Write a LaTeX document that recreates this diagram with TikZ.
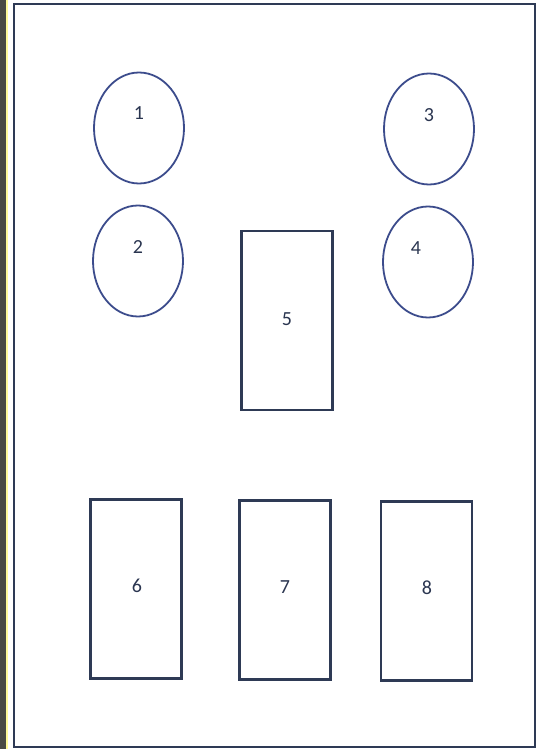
\documentclass[tikz,border=0pt]{standalone}
\usepackage{fontspec}
\setmainfont{Carlito}
\usetikzlibrary{shapes.geometric}
\definecolor{linec}{HTML}{2E3A55}
\definecolor{ellc}{HTML}{3C4C8C}
\definecolor{txtc}{HTML}{2A3550}
\definecolor{stripc}{HTML}{4A4A44}
\tikzset{
  oval/.style={draw=ellc, line width=1.8pt, ellipse, minimum width=90pt, minimum height=111pt, inner sep=0pt},
  slab/.style={draw=linec, line width=2.2pt, rectangle, minimum width=91pt, minimum height=179pt, inner sep=0pt},
  lbl/.style={text=txtc, font=\fontsize{20}{20}\selectfont, inner sep=0pt}
}
\begin{document}
\begin{tikzpicture}[x=1pt,y=-1pt]
\useasboundingbox (0,0) rectangle (536,749);
\fill[white] (0,0) rectangle (536,749);
\fill[stripc] (0,0) rectangle (6,749);
\fill[yellow!40!white] (6,0) rectangle (8,749);
\draw[linec, line width=2.4pt] (14,4) rectangle (535,747);
% ellipses
\node[oval] (o1) at (139,128) {};
\node[oval] (o2) at (138,261) {};
\node[oval] (o3) at (429,129) {};
\node[oval] (o4) at (428,262) {};
% rectangles
\node[slab] (r5) at (287,320.5) {};
\node[slab] (r6) at (136,589) {};
\node[slab] (r7) at (285,590) {};
\node[slab] (r8) at (426.5,591) {};
% labels
\node[lbl] (t1) at (139,113) {1};
\node[lbl] (t2) at (138,247) {2};
\node[lbl] (t3) at (429,115) {3};
\node[lbl] (t4) at (416,248) {4};
\node[lbl] (t5) at (287,319) {5};
\node[lbl] (t6) at (137,586) {6};
\node[lbl] (t7) at (285,587) {7};
\node[lbl] (t8) at (427,588) {8};
\end{tikzpicture}
\end{document}
